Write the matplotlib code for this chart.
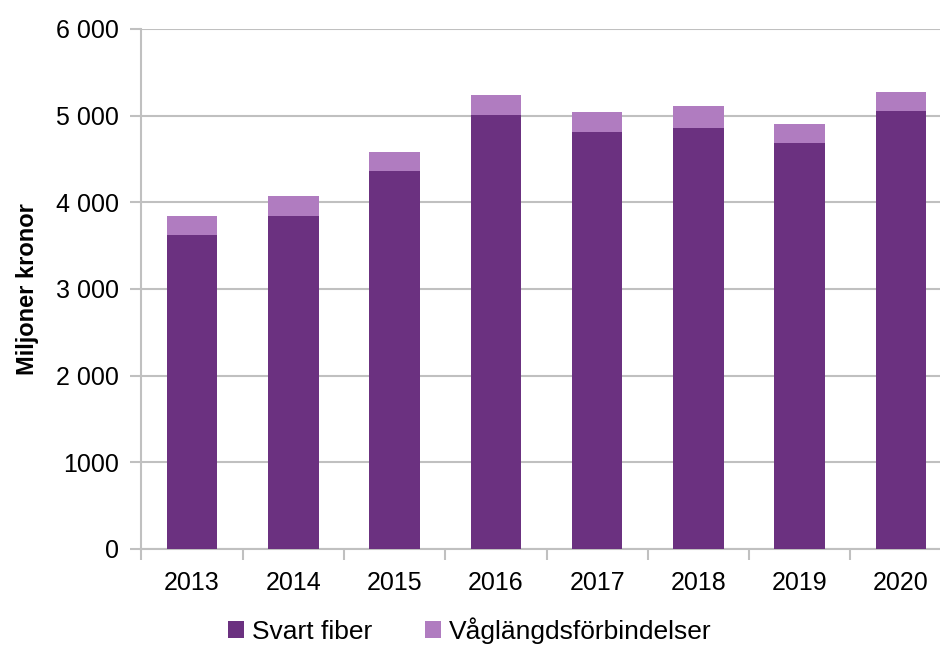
import matplotlib.pyplot as plt

plt.rcParams['font.family'] = ['Liberation Sans', 'DejaVu Sans']

# data (miljoner kronor)
years = ["2013", "2014", "2015", "2016", "2017", "2018", "2019", "2020"]
svart_fiber = [3620, 3843, 4360, 5011, 4816, 4858, 4686, 5054]
totals = [3843, 4077, 4582, 5241, 5038, 5111, 4904, 5272]
vaglangd = [t - s for t, s in zip(totals, svart_fiber)]
y_ticks = [0, 1000, 2000, 3000, 4000, 5000, 6000]
y_labels = ["0", "1000", "2 000", "3 000", "4 000", "5 000", "6 000"]

DARK = "#6B3180"
LIGHT = "#B07CC0"
GRID = "#C0C0C0"

fig = plt.figure(figsize=(9.4, 6.48), dpi=100)
ax = fig.add_axes([0.1504, 0.1528, 0.862, 0.8025])

x = range(len(years))
ax.bar(x, svart_fiber, width=0.5, color=DARK, label="Svart fiber", zorder=3)
ax.bar(x, vaglangd, width=0.5, bottom=svart_fiber, color=LIGHT,
       label="Våglängdsförbindelser", zorder=3)

ax.set_xlim(-0.5, len(years) - 0.5)
ax.set_ylim(0, 6000)
ax.set_yticks(y_ticks)
ax.set_yticklabels(y_labels)
ax.yaxis.grid(True, color=GRID, linewidth=1.5, zorder=0)

ax.set_xticks(list(x))
ax.set_xticklabels(years)
ax.set_xticks([i - 0.5 for i in range(len(years) + 1)], minor=True)
ax.tick_params(axis="x", which="major", length=0, pad=16, labelsize=18)
ax.tick_params(axis="x", which="minor", length=8, width=1.5, color=GRID)
ax.tick_params(axis="y", length=8, width=1.5, color=GRID, labelsize=18, pad=8)

for s in ["top", "right"]:
    ax.spines[s].set_visible(False)
for s in ["left", "bottom"]:
    ax.spines[s].set_color(GRID)
    ax.spines[s].set_linewidth(1.5)

ax.set_ylabel("Miljoner kronor", fontsize=17, fontweight="bold", labelpad=12)

fig.legend(loc="lower center", bbox_to_anchor=(0.5, -0.03), ncol=2, frameon=False,
           fontsize=19, handlelength=0.6, handleheight=0.6, handletextpad=0.3,
           columnspacing=2.0)

fig.savefig("out.png", dpi=100)
